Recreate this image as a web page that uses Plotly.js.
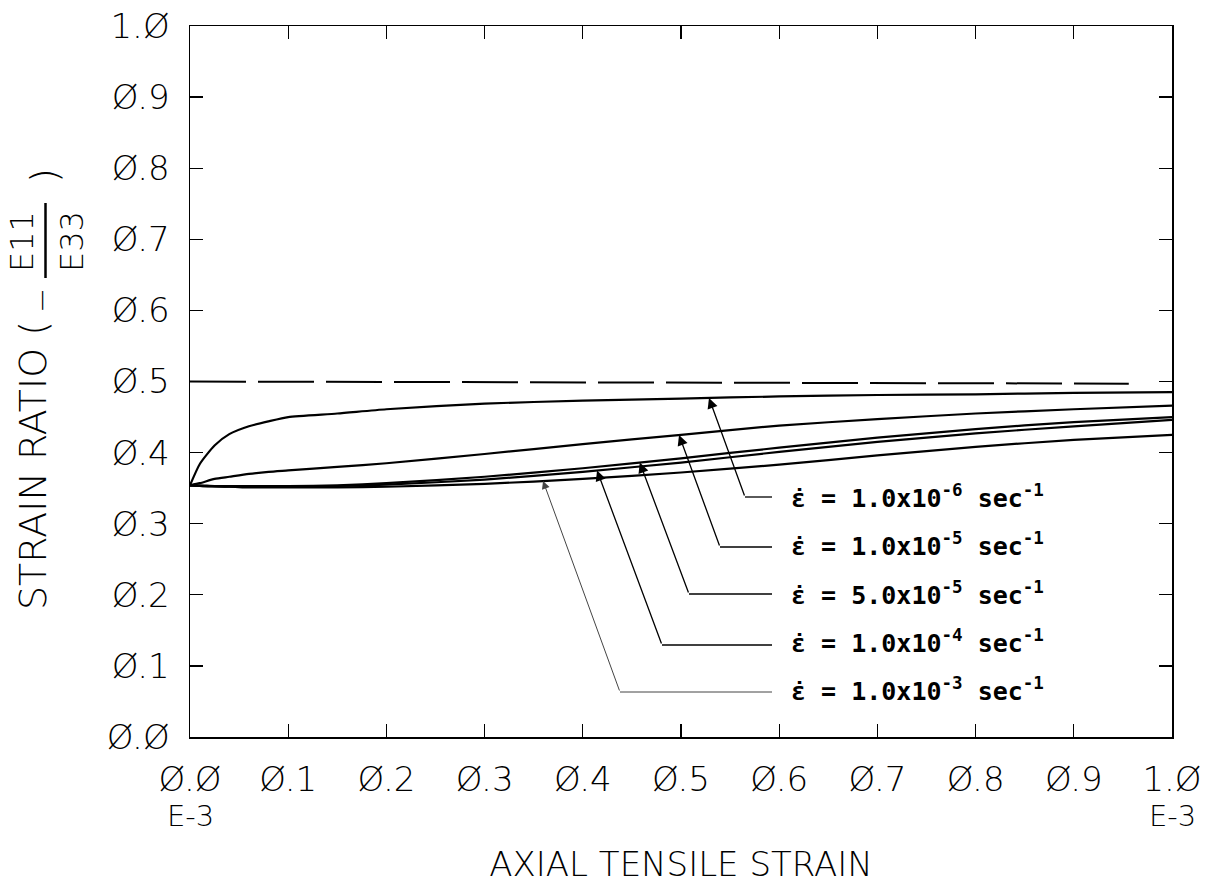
<!DOCTYPE html>
<html>
<head>
<meta charset="utf-8">
<script src="https://cdn.plot.ly/plotly-3.0.1.min.js"></script>
<style>html,body{margin:0;padding:0;background:#fff;}#chart{width:1217px;height:884px;}</style>
</head>
<body>
<div id="chart"></div>
<script>
// ---- data ----
const strain = [0, 0.01, 0.025, 0.04, 0.06, 0.08, 0.1, 0.15, 0.2, 0.3, 0.4, 0.5, 0.6, 0.7, 0.8, 0.9, 1.0];
const rate1e6 = [0.354, 0.384, 0.410, 0.426, 0.437, 0.444, 0.450, 0.455, 0.461, 0.469, 0.473, 0.476, 0.479, 0.481, 0.482, 0.484, 0.485];
const rate1e5 = [0.354, 0.357, 0.363, 0.366, 0.370, 0.373, 0.375, 0.380, 0.385, 0.398, 0.412, 0.425, 0.438, 0.447, 0.455, 0.461, 0.466];
const rate5e5 = [0.354, 0.354, 0.353, 0.353, 0.353, 0.353, 0.353, 0.354, 0.357, 0.366, 0.378, 0.392, 0.407, 0.421, 0.433, 0.443, 0.450];
const rate1e4 = [0.354, 0.353, 0.353, 0.352, 0.352, 0.352, 0.352, 0.353, 0.355, 0.362, 0.373, 0.386, 0.401, 0.415, 0.427, 0.437, 0.446];
const rate1e3 = [0.354, 0.353, 0.352, 0.352, 0.351, 0.351, 0.351, 0.351, 0.352, 0.356, 0.363, 0.372, 0.383, 0.396, 0.408, 0.418, 0.425];
const limitX = [0, 0.956];
const limitY = [0.5, 0.497];

const seriesValues = [rate1e6, rate1e5, rate5e5, rate1e4, rate1e3];
const rateLabels = ['1.0x10<sup>-6</sup>', '1.0x10<sup>-5</sup>', '5.0x10<sup>-5</sup>', '1.0x10<sup>-4</sup>', '1.0x10<sup>-3</sup>'];
// strain where each label's arrow touches its curve
const arrowAt = [0.5285, 0.498, 0.458, 0.4145, 0.3595];

const xTickVals = [0, 0.1, 0.2, 0.3, 0.4, 0.5, 0.6, 0.7, 0.8, 0.9, 1.0];
const xTickText = ['Ø.Ø', 'Ø.1', 'Ø.2', 'Ø.3', 'Ø.4', 'Ø.5', 'Ø.6', 'Ø.7', 'Ø.8', 'Ø.9', '1.Ø'];
const xExponentAt = [0, 1.0];
const xExponentText = 'E-3';
const yTickVals = [0, 0.1, 0.2, 0.3, 0.4, 0.5, 0.6, 0.7, 0.8, 0.9, 1.0];
const yTickText = ['Ø.Ø', 'Ø.1', 'Ø.2', 'Ø.3', 'Ø.4', 'Ø.5', 'Ø.6', 'Ø.7', 'Ø.8', 'Ø.9', '1.Ø'];

// ---- layout helpers (pixel geometry of the frame) ----
const W = 1217, H = 884;
const M = {l: 190, r: 45, t: 26, b: 147};
const PW = W - M.l - M.r, PH = H - M.t - M.b;
const px2x = p => (p - M.l) / PW;        // paper x
const px2y = p => (H - M.b - p) / PH;    // paper y

function interp(xs, ys, x) {
  for (let i = 1; i < xs.length; i++) {
    if (x <= xs[i]) { const t = (x - xs[i-1]) / (xs[i] - xs[i-1]); return ys[i-1] + t * (ys[i] - ys[i-1]); }
  }
  return ys[ys.length - 1];
}

const traces = seriesValues.map(v => ({
  x: strain, y: v, type: 'scatter', mode: 'lines',
  line: {color: '#000', width: 2.2, shape: 'spline', smoothing: 0.6},
  hoverinfo: 'skip'
}));
traces.push({x: limitX, y: limitY, type: 'scatter', mode: 'lines',
  line: {color: '#000', width: 2, dash: '56px,12px'}, hoverinfo: 'skip'});

// label geometry (pixels)
const bendPx = [[745, 497], [720, 547], [689, 594], [662, 645], [620, 692]];
const textLeftPx = 772;
const labelYpx = [500, 548, 597, 645, 693];

const shapes = [];
const annotations = [];
const mono = 'DejaVu Sans Mono';
const light = 'DejaVu Sans';
bendPx.forEach((b, i) => {
  const bx = px2x(b[0]), by = px2y(b[1]);
  const thin = i === 4;
  shapes.push({type: 'line', xref: 'paper', yref: 'paper', x0: bx, y0: by, x1: px2x(textLeftPx), y1: by,
    line: {color: thin ? '#444' : '#000', width: thin ? 1 : 1.3}});
  const tipX = arrowAt[i], tipY = interp(strain, seriesValues[i], tipX);
  annotations.push({x: tipX, y: tipY, xref: 'x', yref: 'y', text: '', showarrow: true,
    ax: bx, ay: by, axref: 'x', ayref: 'y',
    arrowhead: 2, arrowsize: 1.6, arrowwidth: thin ? 1 : 1.3, arrowcolor: thin ? '#444' : '#000', standoff: 0});
  annotations.push({xref: 'paper', yref: 'paper', x: px2x(789), y: px2y(labelYpx[i] - 4),
    xanchor: 'left', yanchor: 'middle', showarrow: false,
    text: 'ε\u0307 = ' + rateLabels[i] + ' sec<sup>-1</sup>',
    font: {family: mono, size: 25, color: '#000', weight: 'bold'}});
});

// exponent note under the first and last x tick labels
xExponentAt.forEach(v => annotations.push({xref: 'x', yref: 'paper', x: v, y: px2y(816),
  xanchor: 'center', yanchor: 'middle', showarrow: false, text: xExponentText,
  font: {family: light, size: 29, color: '#000', weight: 200}}));

// y-axis title pieces
const tFont = {family: light, size: 38, color: '#000', weight: 200};
annotations.push({xref: 'paper', yref: 'paper', x: px2x(33), y: px2y(466), textangle: -90,
  xanchor: 'center', yanchor: 'middle', showarrow: false, text: 'STRAIN RATIO (', font: tFont});
annotations.push({xref: 'paper', yref: 'paper', x: px2x(41), y: px2y(301), textangle: -90,
  xanchor: 'center', yanchor: 'middle', showarrow: false, text: '−', font: {family: light, size: 30, color: '#000', weight: 200}});
annotations.push({xref: 'paper', yref: 'paper', x: px2x(22), y: px2y(242), textangle: -90,
  xanchor: 'center', yanchor: 'middle', showarrow: false, text: 'E11', font: {family: light, size: 32, color: '#000', weight: 200}});
annotations.push({xref: 'paper', yref: 'paper', x: px2x(72), y: px2y(242), textangle: -90,
  xanchor: 'center', yanchor: 'middle', showarrow: false, text: 'E33', font: {family: light, size: 32, color: '#000', weight: 200}});
annotations.push({xref: 'paper', yref: 'paper', x: px2x(44), y: px2y(176), textangle: -90,
  xanchor: 'center', yanchor: 'middle', showarrow: false, text: ')', font: tFont});
shapes.push({type: 'line', xref: 'paper', yref: 'paper', x0: px2x(45.5), x1: px2x(45.5), y0: px2y(278), y1: px2y(203),
  line: {color: '#000', width: 2.5}});

const tickFont = {family: light, size: 34, color: '#000', weight: 200};
const layout = {
  width: W, height: H, margin: M,
  paper_bgcolor: '#fff', plot_bgcolor: '#fff',
  showlegend: false, hovermode: false,
  xaxis: {range: [0, 1], showgrid: false, zeroline: false,
    showline: true, linecolor: '#000', linewidth: 1.5, mirror: 'ticks',
    ticks: 'inside', ticklen: 13, tickwidth: 1.3, tickcolor: '#000',
    tickmode: 'array', tickvals: xTickVals, ticktext: xTickText,
    tickfont: tickFont, ticklabelstandoff: 12,
    title: {text: 'AXIAL TENSILE STRAIN', font: {family: light, size: 34, color: '#000', weight: 200}, standoff: 54}},
  yaxis: {range: [0, 1], showgrid: false, zeroline: false,
    showline: true, linecolor: '#000', linewidth: 1.5, mirror: 'ticks',
    ticks: 'inside', ticklen: 13, tickwidth: 1.3, tickcolor: '#000',
    tickmode: 'array', tickvals: yTickVals, ticktext: yTickText,
    tickfont: tickFont, ticklabelstandoff: 12},
  shapes: shapes,
  annotations: annotations
};
Plotly.newPlot('chart', traces, layout, {displayModeBar: false, staticPlot: true});
</script>
</body>
</html>
